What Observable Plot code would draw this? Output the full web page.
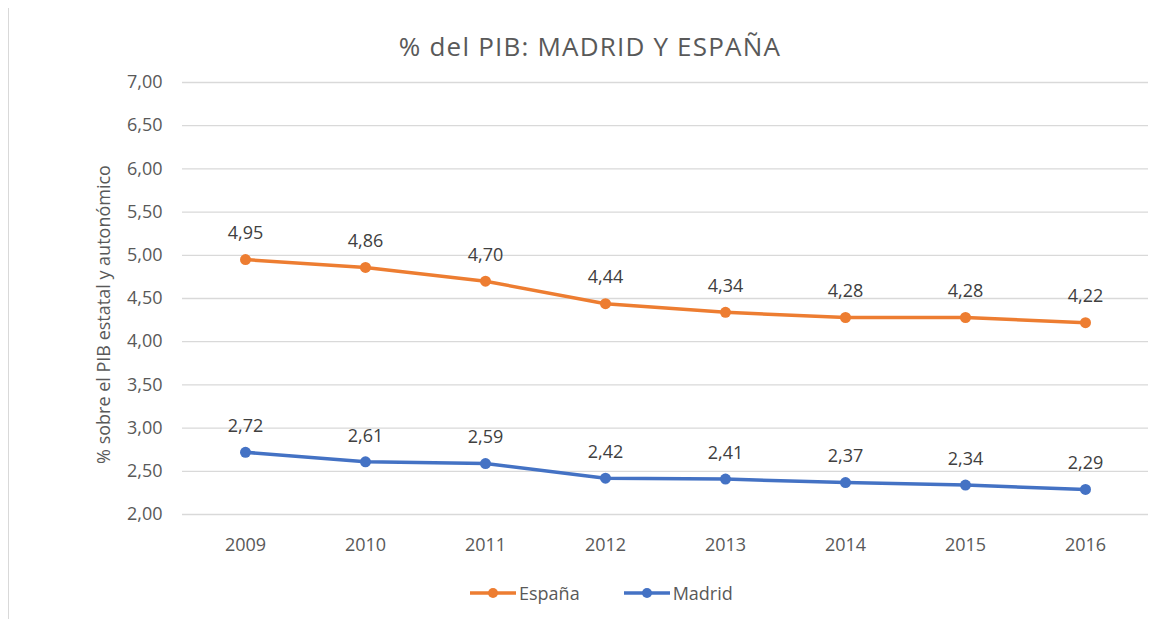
<!DOCTYPE html>
<html>
<head>
<meta charset="utf-8">
<script src="https://cdn.jsdelivr.net/npm/d3@7"></script>
<script src="https://cdn.jsdelivr.net/npm/@observablehq/plot@0.6"></script>
<style>
  body { margin: 0; background: #fff; font-family: "Open Sans", sans-serif; }
  #wrap { position: relative; width: 1160px; height: 619px; overflow: hidden; }
  #border { position: absolute; left: 8px; top: 8px; bottom: 0; width: 0; border-left: 1px solid #d9d9d9; }
  #title { position: absolute; left: 0; width: 1180px; top: 29px; text-align: center; font-size: 26px; letter-spacing: 1.2px; color: #595959; line-height: 34px; }
  #legend { position: absolute; left: 470px; top: 581px; display: flex; align-items: center; font-size: 18px; color: #595959; line-height: 24px; }
  .item { display: flex; align-items: center; margin-right: 44px; }
  .item svg { margin-right: 3px; }
</style>
</head>
<body>
<div id="wrap">
  <div id="border"></div>
  <div id="chart"></div>
  <div id="title">% del PIB: MADRID Y ESPAÑA</div>
  <div id="legend"></div>
</div>
<script>
const years = ["2009","2010","2011","2012","2013","2014","2015","2016"];
const espana = [4.95, 4.86, 4.70, 4.44, 4.34, 4.28, 4.28, 4.22];
const madrid = [2.72, 2.61, 2.59, 2.42, 2.41, 2.37, 2.34, 2.29];
const seriesNames = ["España", "Madrid"];
const seriesColors = ["#ED7D31", "#4472C4"];
const yTicks = [2, 2.5, 3, 3.5, 4, 4.5, 5, 5.5, 6, 6.5, 7];
const yLabel = "% sobre el PIB estatal y autonómico";

const data = [];
years.forEach((y, i) => {
  data.push({year: y, value: espana[i], serie: seriesNames[0]});
  data.push({year: y, value: madrid[i], serie: seriesNames[1]});
});
const fmt = v => d3.format(".2f")(v).replace(".", ",");

const chart = Plot.plot({
  width: 1160,
  height: 619,
  marginLeft: 182,
  marginRight: 12,
  marginTop: 82,
  marginBottom: 105,
  style: {fontFamily: "Open Sans, sans-serif", fontSize: "18px", color: "#595959", background: "transparent"},
  x: {type: "point", domain: years, padding: 0.5, label: null},
  y: {domain: [2, 7], ticks: yTicks, label: null},
  color: {domain: seriesNames, range: seriesColors},
  marks: [
    Plot.gridY(yTicks, {stroke: "#d9d9d9", strokeOpacity: 1, strokeWidth: 1.3}),
    Plot.axisY(yTicks, {tickSize: 0, tickPadding: 20, tickFormat: fmt, fontSize: 18, fill: "#595959", label: null}),
    Plot.axisX({tickSize: 0, tickPadding: 24, fontSize: 18, fill: "#595959", label: null}),
    Plot.text([yLabel], {frameAnchor: "left", textAnchor: "middle", rotate: -90, dx: -78, dy: 16, fontSize: 18, fill: "#595959"}),
    Plot.line(data, {x: "year", y: "value", z: "serie", stroke: "serie", strokeWidth: 3.5}),
    Plot.dot(data, {x: "year", y: "value", fill: "serie", r: 5.5}),
    Plot.text(data, {x: "year", y: "value", text: d => fmt(d.value), dy: -26, fontSize: 18, fill: "#404040"})
  ]
});
document.getElementById("chart").appendChild(chart);

const legend = document.getElementById("legend");
seriesNames.forEach((n, i) => {
  const it = document.createElement("div");
  it.className = "item";
  it.innerHTML = `<svg width="46" height="14"><line x1="0" y1="7" x2="46" y2="7" stroke="${seriesColors[i]}" stroke-width="3.5"/><circle cx="23" cy="7" r="5" fill="${seriesColors[i]}"/></svg><span>${n}</span>`;
  legend.appendChild(it);
});
</script>
</body>
</html>
